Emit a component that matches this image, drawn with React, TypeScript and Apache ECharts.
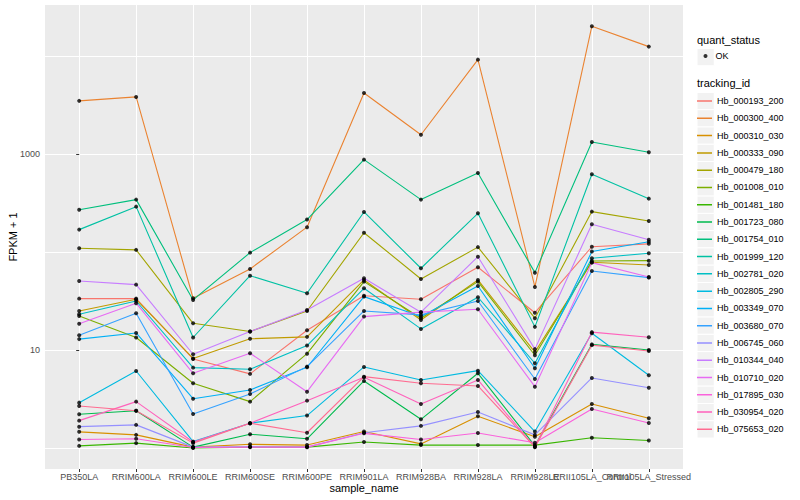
import React, { useEffect, useRef } from "react";
import * as echarts from "echarts";

// ---- data ----
const categories = [
  "PB350LA",
  "RRIM600LA",
  "RRIM600LE",
  "RRIM600SE",
  "RRIM600PE",
  "RRIM901LA",
  "RRIM928BA",
  "RRIM928LA",
  "RRIM928LE",
  "RRII105LA_Control",
  "RRII105LA_Stressed",
];

const trackingIds = [
  "Hb_000193_200",
  "Hb_000300_400",
  "Hb_000310_030",
  "Hb_000333_090",
  "Hb_000479_180",
  "Hb_001008_010",
  "Hb_001481_180",
  "Hb_001723_080",
  "Hb_001754_010",
  "Hb_001999_120",
  "Hb_002781_020",
  "Hb_002805_290",
  "Hb_003349_070",
  "Hb_003680_070",
  "Hb_006745_060",
  "Hb_010344_040",
  "Hb_010710_020",
  "Hb_017895_030",
  "Hb_030954_020",
  "Hb_075653_020",
];

const hb000193_200 = [33.4, 33.4, 8.1, 5.7, 15.9, 35.8, 32.9, 69.8, 24.0, 113, 121];
const hb000300_400 = [3480, 3820, 33.7, 67.1, 179, 4190, 1570, 9170, 44.0, 20100, 12450];
const hb000310_030 = [1.46, 1.36, 1.02, 1.09, 1.07, 1.47, 1.1, 2.11, 1.3, 2.81, 2.01];
const hb000333_090 = [25.0, 32.9, 8.2, 13.0, 13.6, 51.8, 20.2, 51.8, 9.5, 78.5, 73.7];
const hb000479_180 = [109, 105, 18.7, 15.4, 25.0, 157, 53.0, 112, 21.1, 258, 207];
const hb001008_010 = [22.2, 13.4, 4.57, 2.97, 9.17, 49.8, 21.1, 49.8, 8.83, 80.9, 81.5];
const hb001481_180 = [1.05, 1.12, 1.0, 1.02, 1.02, 1.15, 1.07, 1.07, 1.07, 1.27, 1.19];
const hb001723_080 = [2.21, 2.4, 1.02, 1.38, 1.24, 4.83, 1.96, 5.78, 1.05, 11.4, 10.0];
const hb001754_010 = [270, 342, 32.4, 98.4, 214, 875, 342, 640, 61.5, 1325, 1040];
const hb001999_120 = [169, 290, 13.4, 57.3, 37.9, 256, 68.2, 248, 17.2, 621, 350];
const hb002781_020 = [23.1, 31.6, 6.6, 6.35, 11.1, 42.6, 16.4, 34.5, 7.32, 86.2, 97.0];
const hb002805_290 = [2.9, 6.1, 1.16, 1.79, 2.14, 6.71, 4.94, 6.15, 1.47, 14.8, 5.52];
const hb003349_070 = [12.9, 14.9, 3.18, 3.91, 6.66, 35.0, 21.9, 45.0, 6.51, 101, 127];
const hb003680_070 = [14.1, 23.7, 2.22, 3.56, 6.76, 25.0, 22.8, 31.6, 5.06, 64.0, 54.7];
const hb006745_060 = [1.65, 1.72, 1.02, 1.03, 1.02, 1.43, 1.68, 2.33, 1.36, 5.18, 4.12];
const hb010344_040 = [50.6, 46.4, 9.04, 15.4, 25.6, 53.9, 24.3, 89.5, 10.2, 192, 133];
const hb010710_020 = [18.5, 30.0, 5.78, 9.25, 3.75, 21.9, 24.3, 26.0, 4.22, 77.8, 55.6];
const hb017895_030 = [1.22, 1.24, 1.01, 1.02, 1.02, 1.41, 1.22, 1.42, 1.13, 2.5, 1.8];
const hb030954_020 = [1.9, 2.97, 1.15, 1.79, 3.04, 5.27, 2.81, 4.94, 1.02, 15.2, 13.5];
const hb075653_020 = [2.68, 2.4, 1.12, 1.79, 1.43, 5.34, 4.57, 4.29, 1.02, 11.2, 9.77];

const seriesValues = [
  hb000193_200,
  hb000300_400,
  hb000310_030,
  hb000333_090,
  hb000479_180,
  hb001008_010,
  hb001481_180,
  hb001723_080,
  hb001754_010,
  hb001999_120,
  hb002781_020,
  hb002805_290,
  hb003349_070,
  hb003680_070,
  hb006745_060,
  hb010344_040,
  hb010710_020,
  hb017895_030,
  hb030954_020,
  hb075653_020,
];

const seriesColors = [
  "#F8766D", "#EA8331", "#D89000", "#C09B00", "#A3A500",
  "#7CAE00", "#39B600", "#00BB4E", "#00BF7D", "#00C1A3",
  "#00BFC4", "#00BAE0", "#00B0F6", "#35A2FF", "#9590FF",
  "#C77CFF", "#E76BF3", "#FA62DB", "#FF62BC", "#FF6C91",
];

const yLabelTicks = [10, 1000];
const yGridTicks = [1, 10, 100, 1000, 10000];
const quantStatus = ["OK"];

const FONT = "'Liberation Sans', Arial, Helvetica, sans-serif";
// legend key icon: full-size bounding box (tiny corner specks) with a centred line
const KEY_ICON =
  "path://M0,0h0.01v0.01h-0.01zM0,7.9h15v1.5h-15zM14.99,17.27h0.01v0.01h-0.01z";

export default function App() {
  const ref = useRef<HTMLDivElement>(null);

  useEffect(() => {
    document.body.style.margin = "0";
    if (!ref.current) return;
    const chart = echarts.init(ref.current, undefined, { renderer: "svg" });
    const xIdx = categories.map((_, i) => i);
    const X_MIN = -0.6;
    const X_MAX = 10.6;

    const labelStyle = {
      formatter: (v: number) => categories[Math.round(v)] ?? "",
      color: "#4D4D4D",
      fontSize: 9,
      margin: 3,
      showMinLabel: true,
      showMaxLabel: true,
      hideOverlap: false,
      fontFamily: FONT,
    };

    // extra bottom axes that each carry a single label (so no label is auto-hidden)
    const singleLabelAxis = (i: number) => ({
      type: "value",
      min: X_MIN,
      max: X_MAX,
      position: "bottom",
      offset: 0,
      axisLine: { show: false },
      axisTick: { show: false },
      splitLine: { show: false },
      axisLabel: { ...labelStyle, customValues: [i] },
    });

    const lineSeries = trackingIds.map((id, k) => ({
      type: "line",
      name: id,
      data: seriesValues[k].map((v, i) => [i, v]),
      symbol: "none",
      color: seriesColors[k],
      lineStyle: { width: 1.1, color: seriesColors[k] },
      xAxisIndex: 0,
      yAxisIndex: 0,
      z: 2,
      silent: true,
    }));

    const points: number[][] = [];
    seriesValues.forEach((vals) => vals.forEach((v, i) => points.push([i, v])));

    const keyTop = 92.4;
    const keySize = 17.28;
    const keyRects = trackingIds.map((_, i) => ({
      type: "rect",
      z: 0,
      shape: { x: 697, y: keyTop + i * keySize, width: keySize, height: keySize },
      style: { fill: "#F2F2F2", stroke: "#FFFFFF", lineWidth: 1 },
    }));

    const option = {
      animation: false,
      backgroundColor: "#FFFFFF",
      textStyle: { fontFamily: FONT },
      grid: {
        left: 45,
        right: 117,
        top: 5,
        bottom: 31,
        show: true,
        backgroundColor: "#EBEBEB",
        borderWidth: 0,
        containLabel: false,
        outerBoundsMode: "none",
      },
      xAxis: [
        {
          type: "value",
          min: X_MIN,
          max: X_MAX,
          position: "bottom",
          axisLine: { show: false },
          axisTick: {
            show: true,
            length: 3,
            customValues: xIdx,
            lineStyle: { color: "#333333", width: 1 },
          },
          axisLabel: { ...labelStyle, customValues: xIdx.slice(0, 9) },
          splitLine: { show: true, lineStyle: { color: "#FFFFFF", width: 1 } },
          name: "sample_name",
          nameLocation: "middle",
          nameGap: 13,
          nameMoveOverlap: false,
          nameTextStyle: { color: "#000000", fontSize: 11, fontFamily: FONT },
        },
        singleLabelAxis(9),
        singleLabelAxis(10),
      ],
      yAxis: [
        {
          type: "log",
          logBase: 10,
          min: 0.61,
          max: 33100,
          position: "left",
          axisLine: { show: false },
          axisTick: {
            show: true,
            length: 3,
            customValues: yLabelTicks,
            lineStyle: { color: "#333333", width: 1 },
          },
          axisLabel: {
            customValues: yLabelTicks,
            formatter: (v: number) => String(Math.round(v)),
            color: "#4D4D4D",
            fontSize: 9,
            margin: 5,
            fontFamily: FONT,
          },
          splitLine: { show: false },
          name: "FPKM + 1",
          nameLocation: "middle",
          nameGap: 27,
          nameRotate: 90,
          nameMoveOverlap: false,
          nameTextStyle: { color: "#000000", fontSize: 11, fontFamily: FONT },
        },
        {
          type: "log",
          logBase: 10,
          min: 0.61,
          max: 33100,
          position: "left",
          axisLine: { show: false },
          axisTick: { show: false, customValues: yGridTicks },
          axisLabel: { show: false },
          splitLine: { show: true, lineStyle: { color: "#FFFFFF", width: 1 } },
        },
      ],
      legend: [
        {
          data: quantStatus,
          orient: "vertical",
          left: 703.5,
          top: 51.5,
          padding: 0,
          itemWidth: 4,
          itemHeight: 4,
          icon: "circle",
          itemStyle: { borderWidth: 0 },
          selectedMode: false,
          textStyle: { fontSize: 9, color: "#000000", fontFamily: FONT, padding: [0, 0, 0, 3] },
        },
        {
          data: trackingIds.map((n) => ({ name: n, icon: KEY_ICON })),
          orient: "vertical",
          left: 697,
          top: keyTop,
          padding: 0,
          itemGap: 0,
          itemWidth: 15,
          itemHeight: keySize,
          symbolKeepAspect: false,
          itemStyle: { borderWidth: 0 },
          selectedMode: false,
          textStyle: { fontSize: 9, color: "#000000", fontFamily: FONT },
        },
      ],
      graphic: [
        {
          type: "text",
          left: 697,
          top: 34,
          z: 0,
          style: { text: "quant_status", fontSize: 11, fill: "#000000", fontFamily: FONT },
        },
        {
          type: "rect",
          z: 0,
          shape: { x: 697, y: 48.5, width: keySize, height: keySize },
          style: { fill: "#F2F2F2", stroke: "#FFFFFF", lineWidth: 1 },
        },
        {
          type: "text",
          left: 697,
          top: 77,
          z: 0,
          style: { text: "tracking_id", fontSize: 11, fill: "#000000", fontFamily: FONT },
        },
        ...keyRects,
      ],
      series: [
        ...lineSeries,
        {
          type: "scatter",
          name: "OK",
          data: points,
          symbolSize: 4,
          itemStyle: { color: "#000000" },
          xAxisIndex: 0,
          yAxisIndex: 0,
          z: 3,
          silent: true,
        },
      ],
    };

    chart.setOption(option as any);
    return () => chart.dispose();
  }, []);

  return <div ref={ref} style={{ width: 800, height: 500 }} />;
}
